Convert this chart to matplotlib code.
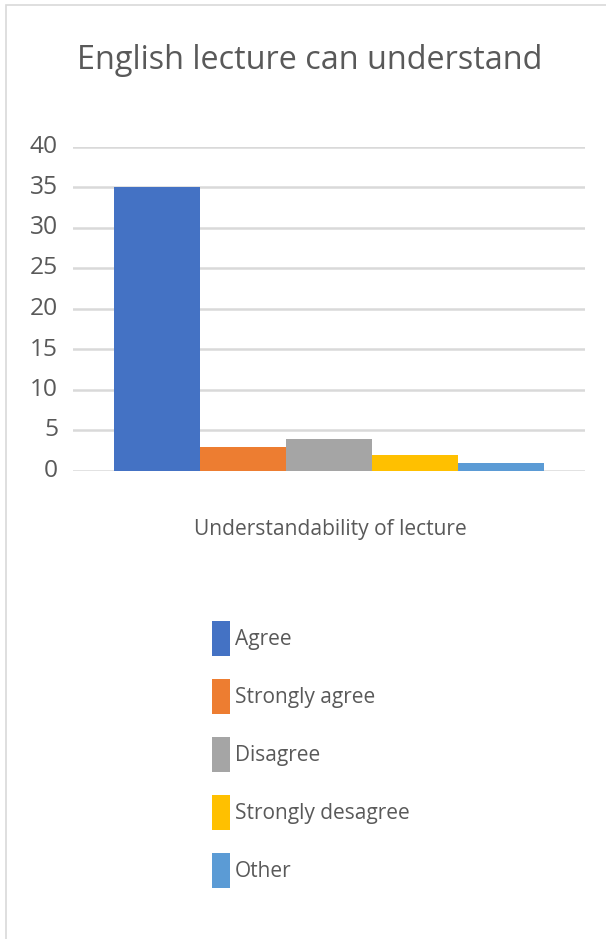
import matplotlib
matplotlib.use("Agg")
import matplotlib.pyplot as plt
from matplotlib.patches import Rectangle

categories = ["Agree", "Strongly agree", "Disagree", "Strongly desagree", "Other"]
values = [35, 3, 4, 2, 1]
colors = ["#4472C4", "#ED7D31", "#A5A5A5", "#FFC000", "#5B9BD5"]
yticks = [0, 5, 10, 15, 20, 25, 30, 35, 40]
title = "English lecture can understand"
xlabel = "Understandability of lecture"

plt.rcParams["font.family"] = ["Open Sans", "DejaVu Sans"]
TXT = "#595959"

W, H = 606, 939
fig = plt.figure(figsize=(W / 100, H / 100), dpi=100)
renderer = fig.canvas.get_renderer()

def fit(t, target_px):
    t.set_fontsize(20)
    w = t.get_window_extent(renderer).width
    t.set_fontsize(20 * target_px / w)
    return t

def fx(x):
    return x / W

def fy(y):
    return 1 - y / H

# chart border
fig.add_artist(Rectangle((fx(6), fy(960)), 1.2, fy(5) - fy(960), transform=fig.transFigure,
                         fill=False, edgecolor="#d9d9d9", linewidth=1.2))

ax = fig.add_axes([fx(73), fy(471), fx(585) - fx(73), fy(147) - fy(471)])
n = len(values)
xs = [i - (n - 1) / 2 for i in range(n)]
bars = ax.bar(xs, values, width=1.0, color=colors, label=categories, zorder=3)
ax.set_xlim(-n / 2 - 0.477, n / 2 + 0.477)
ax.set_ylim(0, 40)
ax.set_yticks(yticks)
ax.set_yticklabels([])
ax.set_xticks([])
for y in yticks:
    ax.axhline(y, color="#d9d9d9", linewidth=1.8, zorder=1)
for s in ax.spines.values():
    s.set_visible(False)
ax.tick_params(left=False, bottom=False)

# y tick labels
for y in yticks:
    t = ax.text(-15 / 512, y, str(y), transform=ax.get_yaxis_transform(), ha="right",
                va="center", color=TXT)
    fit(t, 28 if y >= 10 else 14)

# title
tt = fig.text(fx(310), fy(69), title, ha="center", va="baseline", color=TXT)
fit(tt, 465)

# x label
xl = fig.text(fx(330), fy(530), xlabel, ha="center", va="center", color=TXT)
fit(xl, 273)

# legend
tmp = fig.text(0, 0, "Strongly desagree")
fit(tmp, 174)
lfs = tmp.get_fontsize()
tmp.remove()
fpx = lfs * 100 / 72
patch_h = 35
hh = (patch_h / fpx - 0.245) / 0.65
leg = fig.legend(handles=list(bars), labels=categories, loc="center left",
                 bbox_to_anchor=(fx(212), fy(754.5)), frameon=False, fontsize=lfs,
                 handlelength=18 / fpx, handleheight=hh,
                 handletextpad=5 / fpx, labelspacing=(58 - patch_h) / fpx, borderpad=0,
                 borderaxespad=0)
for txt in leg.get_texts():
    txt.set_color(TXT)

fig.savefig("out.png", dpi=100)
